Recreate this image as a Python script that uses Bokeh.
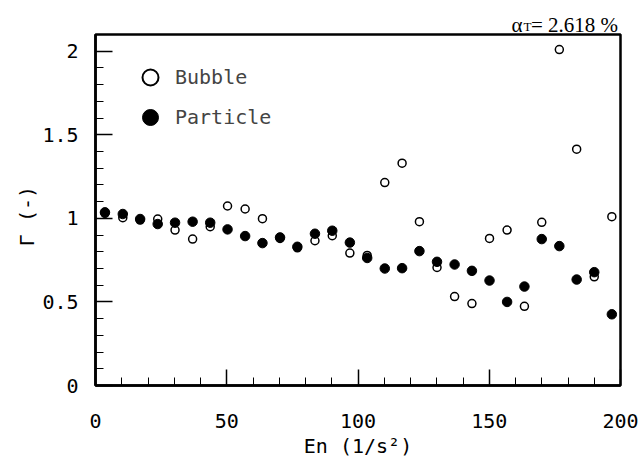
from bokeh.plotting import figure
from bokeh.models import (Range1d, SingleIntervalTicker, Label, Legend, LegendItem)
from bokeh.embed import file_html
from bokeh.resources import INLINE

# ---- data ----
en = [3.6, 10.4, 17.0, 23.7, 30.3, 37.0, 43.7, 50.3, 57.0, 63.6,
      70.3, 76.9, 83.6, 90.2, 96.9, 103.5, 110.2, 116.8, 123.4, 130.1,
      136.8, 143.4, 150.1, 156.8, 163.4, 170.0, 176.7, 183.3, 190.0, 196.7]
bubble = [1.03, 1.004, 0.99, 0.996, 0.930, 0.876, 0.950, 1.074, 1.056, 0.998,
          0.88, 0.824, 0.866, 0.896, 0.792, 0.778, 1.214, 1.330, 0.980, 0.706,
          0.532, 0.490, 0.880, 0.930, 0.474, 0.976, 2.010, 1.414, 0.650, 1.010]
particle = [1.036, 1.026, 0.996, 0.966, 0.974, 0.980, 0.974, 0.934, 0.894, 0.852,
            0.886, 0.830, 0.908, 0.926, 0.855, 0.763, 0.700, 0.702, 0.804, 0.740,
            0.724, 0.686, 0.628, 0.500, 0.592, 0.876, 0.834, 0.634, 0.678, 0.426]
series_names = ["Bubble", "Particle"]
xticks = [0, 50, 100, 150, 200]
xtick_labels = ["0", "50", "100", "150", "200"]
yticks = [0, 0.5, 1, 1.5, 2]
ytick_labels = ["0", "0.5", "1", "1.5", "2"]
x_title = "En (1/s\u00b2)"
y_title = "\u0393 (-)"
note_main = "\u03b1\u2009\u2009= 2.618 %"   # alpha, room for the subscript, value
note_sub = "T"

MONO = "DejaVu Sans Mono"
SERIF = "Liberation Serif"
NAN = float("nan")

p = figure(width=642, height=468, output_backend="svg", toolbar_location=None,
           x_range=Range1d(0, 200), y_range=Range1d(0, 2.1),
           min_border_left=95, min_border_right=22, min_border_top=34,
           min_border_bottom=83)
p.background_fill_color = "white"
p.border_fill_color = "white"
p.outline_line_color = "black"
p.outline_line_width = 2.5
p.xgrid.visible = False
p.ygrid.visible = False

for ax, interval, ticks, labels in ((p.xaxis[0], 50, xticks, xtick_labels),
                                    (p.yaxis[0], 0.5, yticks, ytick_labels)):
    ax.ticker = SingleIntervalTicker(interval=interval, num_minor_ticks=5)
    ax.major_label_overrides = {t: l for t, l in zip(ticks, labels)}
    ax.axis_line_width = 2.5
    ax.axis_line_color = "black"
    ax.major_tick_in = 16
    ax.major_tick_out = 0
    ax.minor_tick_in = 8
    ax.minor_tick_out = 0
    ax.major_tick_line_width = 1.5
    ax.minor_tick_line_width = 1
    ax.major_label_text_font = MONO
    ax.major_label_text_font_size = "20px"
    ax.major_label_text_color = "black"
    ax.axis_label_text_font = MONO
    ax.axis_label_text_font_size = "20px"
    ax.axis_label_text_font_style = "normal"
    ax.axis_label_text_color = "black"

p.yaxis.major_tick_in = 17
p.xaxis.major_label_standoff = 28
p.yaxis.major_label_standoff = 17
p.xaxis.axis_label = x_title
p.xaxis.axis_label_standoff = 3
# a trailing no-break space shifts the rotated title toward the bottom, as in the reference
p.yaxis.axis_label = y_title + "\u00a0"
p.yaxis.axis_label_standoff = 0

# data
p.scatter(en, bubble, size=8, marker="circle", fill_color="white",
          line_color="black", line_width=1.5)
p.scatter(en, particle, size=9.5, marker="circle", fill_color="black",
          line_color="black")

# legend: renderers with no visible point carry the legend symbols
r_b = p.scatter([NAN], [NAN], marker="circle", fill_color="white",
                line_color="black", line_width=2)
r_p = p.scatter([NAN], [NAN], marker="circle", fill_color="black",
                line_color="black")
legend = Legend(items=[LegendItem(label=series_names[0], renderers=[r_b], index=0),
                       LegendItem(label=series_names[1], renderers=[r_p], index=0)],
                location=(30, 248), padding=0, margin=0, spacing=0,
                glyph_width=50, glyph_height=40, label_height=20,
                label_standoff=0, label_text_font=MONO,
                label_text_font_size="20px", background_fill_alpha=0,
                border_line_alpha=0)
p.add_layout(legend, "center")

# note above the box: main text in the top panel, subscript in the right panel
p.add_layout(Label(x=416, y=10, x_units="screen", y_units="screen",
                   text=note_main, text_font=SERIF, text_font_size="21px",
                   text_baseline="alphabetic", text_color="black"), "above")
p.add_layout(Label(x=-97, y=359, x_units="screen", y_units="screen",
                   text=note_sub, text_font=SERIF, text_font_size="13px",
                   text_baseline="alphabetic", text_color="black"), "right")

open("out.html", "w").write(file_html(p, INLINE))
